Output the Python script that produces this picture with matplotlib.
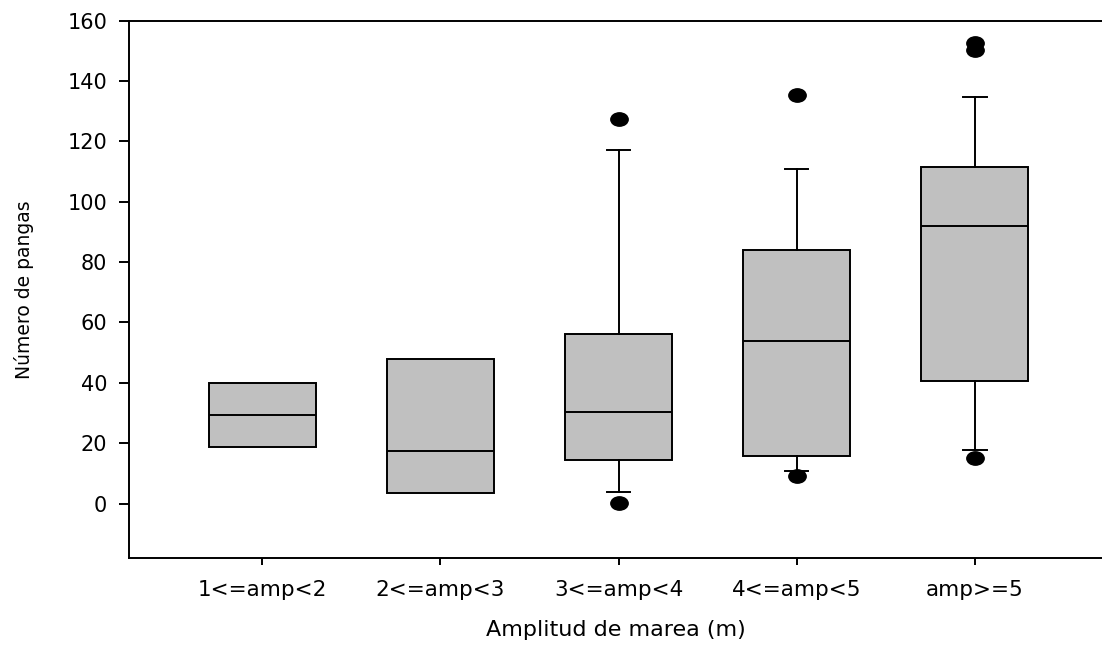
import matplotlib.pyplot as plt
from matplotlib.path import Path
from matplotlib.transforms import Affine2D

# data
categories = ["1<=amp<2", "2<=amp<3", "3<=amp<4", "4<=amp<5", "amp>=5"]
q1 = [18.9, 3.6, 14.3, 15.9, 40.6]
medians = [29.4, 17.6, 30.4, 53.8, 91.9]
q3 = [40.0, 47.8, 56.2, 83.9, 111.6]
whisk_lo = [18.9, 3.6, 3.9, 10.9, 17.7]
whisk_hi = [40.0, 47.8, 117.0, 110.9, 134.6]
outliers = [[], [], [0.2, 127.3], [9.1, 135.2], [15.1, 150.3, 152.5]]
has_whiskers = [False, False, True, True, True]

plt.rcParams["font.family"] = ["DejaVu Sans"]

# slightly wide ellipse, as in the original export
oval = Path.unit_circle().transformed(Affine2D().scale(1.3, 1.0))

fig = plt.figure(figsize=(11.02, 6.46), dpi=100)
ax = fig.add_axes([0.1175, 0.1362, 0.8825, 0.8320])

stats = []
for i in range(len(categories)):
    stats.append({
        "label": categories[i],
        "q1": q1[i],
        "med": medians[i],
        "q3": q3[i],
        "whislo": whisk_lo[i],
        "whishi": whisk_hi[i],
        "fliers": outliers[i],
    })

pos = list(range(1, len(categories) + 1))
parts = ax.bxp(
    stats,
    positions=pos,
    widths=0.6,
    capwidths=0.13,
    patch_artist=True,
    boxprops=dict(facecolor="#c0c0c0", edgecolor="black", linewidth=1.4),
    medianprops=dict(color="black", linewidth=1.4),
    whiskerprops=dict(color="black", linewidth=1.4),
    capprops=dict(color="black", linewidth=1.4),
    flierprops=dict(marker=oval, markerfacecolor="black",
                    markeredgecolor="black", markersize=12.5),
)

# the first two groups have no whiskers/caps drawn
for i, hw in enumerate(has_whiskers):
    if not hw:
        for ln in parts["whiskers"][2 * i:2 * i + 2] + parts["caps"][2 * i:2 * i + 2]:
            ln.set_visible(False)

ax.set_xlim(0.256, 5.713)
ax.set_ylim(-18, 160)
ax.set_yticks(range(0, 161, 20))
ax.set_xticks(pos)
ax.set_xticklabels(categories)

ax.spines["right"].set_visible(False)
for s in ["left", "bottom", "top"]:
    ax.spines[s].set_linewidth(1.4)

ax.tick_params(axis="y", direction="out", length=7, width=1.4, pad=9, labelsize=15)
ax.tick_params(axis="x", direction="out", length=5, width=1.4, pad=11, labelsize=15.5)

ax.set_xlabel("Amplitud de marea (m)", fontsize=16, labelpad=14)
ax.set_ylabel("Número de pangas", fontsize=13.5, labelpad=24)

fig.savefig("out.png", dpi=100)
